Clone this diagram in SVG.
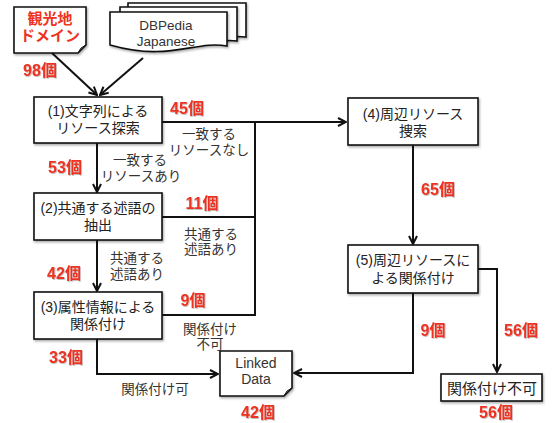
<svg xmlns="http://www.w3.org/2000/svg" width="558" height="423" viewBox="0 0 558 423">
<defs>
<style>
text{font-family:"Liberation Sans","Noto Sans CJK JP",sans-serif;}
.box{fill:#fff;stroke:#111;stroke-width:1.6;filter:url(#sh);}
.t{font-size:14px;fill:#222;text-anchor:middle;}
.lb{font-size:13.5px;fill:#333;text-anchor:middle;}
.red{font-size:16px;font-weight:bold;fill:#ee3322;text-anchor:middle;filter:url(#rsh);}
.en{font-family:"Liberation Sans",sans-serif;font-size:13.5px;fill:#333;text-anchor:middle;}
.c{fill:none;stroke:#111;stroke-width:2;}
</style>
<filter id="sh" x="-10%" y="-10%" width="130%" height="140%"><feDropShadow dx="1" dy="1.5" stdDeviation="1" flood-color="#000" flood-opacity="0.35"/></filter>
<filter id="rsh" x="-10%" y="-20%" width="130%" height="150%"><feDropShadow dx="0.8" dy="0.8" stdDeviation="0.6" flood-color="#000" flood-opacity="0.3"/></filter>
<marker id="ah" viewBox="0 0 10 10" refX="9" refY="5" markerWidth="5" markerHeight="5" orient="auto" markerUnits="strokeWidth">
<path d="M1,1 L9,5 L1,9" fill="none" stroke="#111" stroke-width="2"/>
</marker>
</defs>
<rect width="558" height="423" fill="#fff"/>

<g id="kankochi">
<path class="box" d="M14,7 H86 V45 L78,53 H14 Z"/>
<path d="M78,53 Q80,47 86,45" fill="none" stroke="#111" stroke-width="1"/>
<text class="red" style="font-size:15px;filter:none"><tspan x="50" y="24">観光地</tspan><tspan x="50" y="41">ドメイン</tspan></text>
</g>

<g id="dbpedia">
<path class="box" d="M128,3 H246 V37 C230,35 215,38 200,40 V20 H128 Z"/>
<path class="box" d="M120,7 H237 V41 C224,39 212,42 200,44 V20 H120 Z"/>
<path class="box" d="M110,12 H227 V46 C195,40 170,62 110,45 Z"/>
<text class="en"><tspan x="166" y="30">DBPedia</tspan><tspan x="166" y="45.5">Japanese</tspan></text>
</g>

<g id="n1">
<rect class="box" x="34" y="97" width="128" height="46"/>
<text class="t"><tspan x="98" y="116">(1)文字列による</tspan><tspan x="98" y="133">リソース探索</tspan></text>
</g>
<g id="n2">
<rect class="box" x="34" y="193" width="128" height="47"/>
<text class="t"><tspan x="98" y="213">(2)共通する述語の</tspan><tspan x="98" y="230">抽出</tspan></text>
</g>
<g id="n3">
<rect class="box" x="34" y="292" width="128" height="47"/>
<text class="t"><tspan x="98" y="312">(3)属性情報による</tspan><tspan x="98" y="329">関係付け</tspan></text>
</g>
<g id="n4">
<rect class="box" x="348" y="98" width="130" height="47"/>
<text class="t"><tspan x="413" y="119">(4)周辺リソース</tspan><tspan x="413" y="136">捜索</tspan></text>
</g>
<g id="n5">
<rect class="box" x="348" y="245" width="130" height="48"/>
<text class="t"><tspan x="413" y="265">(5)周辺リソースに</tspan><tspan x="413" y="283">よる関係付け</tspan></text>
</g>
<g id="linked">
<path class="box" d="M220,351 H292 V388 L284,396 H220 Z"/>
<path d="M284,396 Q286,390 292,388" fill="none" stroke="#111" stroke-width="1"/>
<text class="en" style="font-size:14px"><tspan x="256" y="368">Linked</tspan><tspan x="256" y="384">Data</tspan></text>
</g>
<g id="fuka">
<rect class="box" x="441" y="374" width="101" height="27"/>
<text x="492" y="394" class="t" style="font-size:15px">関係付け不可</text>
</g>

<g id="connectors">
<line class="c" x1="52" y1="53" x2="97" y2="95" marker-end="url(#ah)"/>
<line class="c" x1="143" y1="58" x2="100" y2="95" marker-end="url(#ah)"/>
<line class="c" x1="97" y1="143" x2="97" y2="192" marker-end="url(#ah)"/>
<line class="c" x1="97" y1="240" x2="97" y2="291" marker-end="url(#ah)"/>
<path class="c" d="M97,339 V374 H218" marker-end="url(#ah)"/>
<path class="c" d="M162,122 H346" marker-end="url(#ah)"/>
<path class="c" d="M255,122 V315 H162"/>
<path class="c" d="M162,217 H255"/>
<line class="c" x1="413" y1="145" x2="413" y2="244" marker-end="url(#ah)"/>
<path class="c" d="M413,293 V373 H294" marker-end="url(#ah)"/>
<path class="c" d="M478,269 H497 V372" marker-end="url(#ah)"/>
</g>

<g id="labels">
<text x="40" y="76" class="red">98個</text>
<text x="187" y="114" class="red">45個</text>
<text class="lb"><tspan x="209" y="139">一致する</tspan><tspan x="209" y="155">リソースなし</tspan></text>
<text x="65" y="173" class="red">53個</text>
<text class="lb"><tspan x="140" y="165">一致する</tspan><tspan x="141" y="181">リソースあり</tspan></text>
<text x="202" y="209" class="red">11個</text>
<text class="lb"><tspan x="211" y="239">共通する</tspan><tspan x="211" y="254">述語あり</tspan></text>
<text x="64" y="279" class="red">42個</text>
<text class="lb"><tspan x="137" y="263">共通する</tspan><tspan x="137" y="279">述語あり</tspan></text>
<text x="193" y="306" class="red">9個</text>
<text class="lb"><tspan x="210" y="334">関係付け</tspan><tspan x="210" y="349">不可</tspan></text>
<text x="66" y="363" class="red">33個</text>
<text x="155" y="394" class="lb">関係付け可</text>
<text x="258" y="418" class="red">42個</text>
<text x="438" y="195" class="red">65個</text>
<text x="433" y="336" class="red">9個</text>
<text x="521" y="336" class="red">56個</text>
<text x="496" y="418" class="red">56個</text>
</g>
</svg>
